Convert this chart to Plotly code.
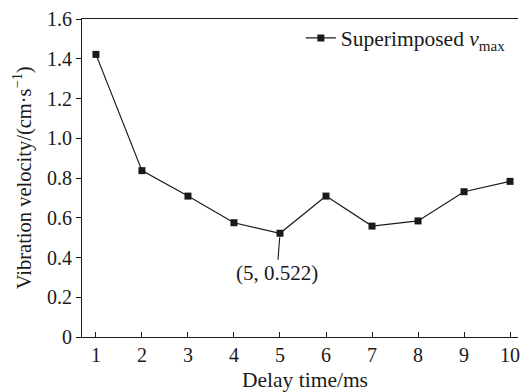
import plotly.graph_objects as go

delay_ms = [1, 2, 3, 4, 5, 6, 7, 8, 9, 10]
v_max = [1.422, 0.837, 0.709, 0.575, 0.522, 0.709, 0.558, 0.584, 0.731, 0.783]
y_ticks = [0, 0.2, 0.4, 0.6, 0.8, 1.0, 1.2, 1.4, 1.6]
y_tick_text = ["0", "0.2", "0.4", "0.6", "0.8", "1.0", "1.2", "1.4", "1.6"]

FONT = "Times New Roman, Liberation Serif, DejaVu Serif, serif"
INK = "#1a1a1a"

fig = go.Figure()
fig.add_trace(go.Scatter(
    x=delay_ms, y=v_max, mode="lines+markers",
    name="Superimposed <i>v</i><sub>max</sub>",
    line=dict(color=INK, width=1.2),
    marker=dict(symbol="square", size=7, color=INK),
))

fig.add_annotation(
    x=5, y=0.522, xref="x", yref="y",
    text="(5, 0.522)", showarrow=True, arrowhead=0, arrowwidth=1.1,
    arrowcolor=INK, ax=-3, ay=40, standoff=4,
    font=dict(family=FONT, size=21, color=INK),
)
fig.add_annotation(
    x=0.512, y=-0.136, xref="paper", yref="paper", showarrow=False,
    text="Delay time/ms", xanchor="center", yanchor="middle",
    font=dict(family=FONT, size=21.5, color=INK),
)
fig.add_annotation(
    x=-0.137, y=0.5, xref="paper", yref="paper", showarrow=False,
    text="Vibration velocity/(cm·s<sup>−1</sup>)", textangle=-90,
    xanchor="center", yanchor="middle",
    font=dict(family=FONT, size=20.5, color=INK),
)

fig.update_layout(
    width=520, height=392,
    margin=dict(l=82, r=0, t=19, b=55),
    paper_bgcolor="white", plot_bgcolor="white",
    font=dict(family=FONT, size=20, color=INK),
    showlegend=True,
    legend=dict(x=0.502, y=1.005, xanchor="left", yanchor="top",
                bgcolor="rgba(0,0,0,0)", borderwidth=0, itemwidth=30,
                font=dict(family=FONT, size=21.5, color=INK)),
    xaxis=dict(range=[0.697, 10.173], tickmode="array", tickvals=delay_ms,
               ticks="inside", ticklen=5, tickwidth=1.1, tickcolor=INK,
               ticklabeloverflow="allow",
               showline=True, linecolor=INK, linewidth=1.2, mirror=True,
               showgrid=False, zeroline=False,
               tickfont=dict(family=FONT, size=20, color=INK)),
    yaxis=dict(range=[0, 1.6], tickmode="array", tickvals=y_ticks, ticktext=y_tick_text,
               ticks="outside", ticklen=5, tickwidth=1.1, tickcolor=INK,
               showline=True, linecolor=INK, linewidth=1.2, mirror=False,
               showgrid=False, zeroline=False,
               tickfont=dict(family=FONT, size=20, color=INK)),
)

fig.write_html("out.html")
